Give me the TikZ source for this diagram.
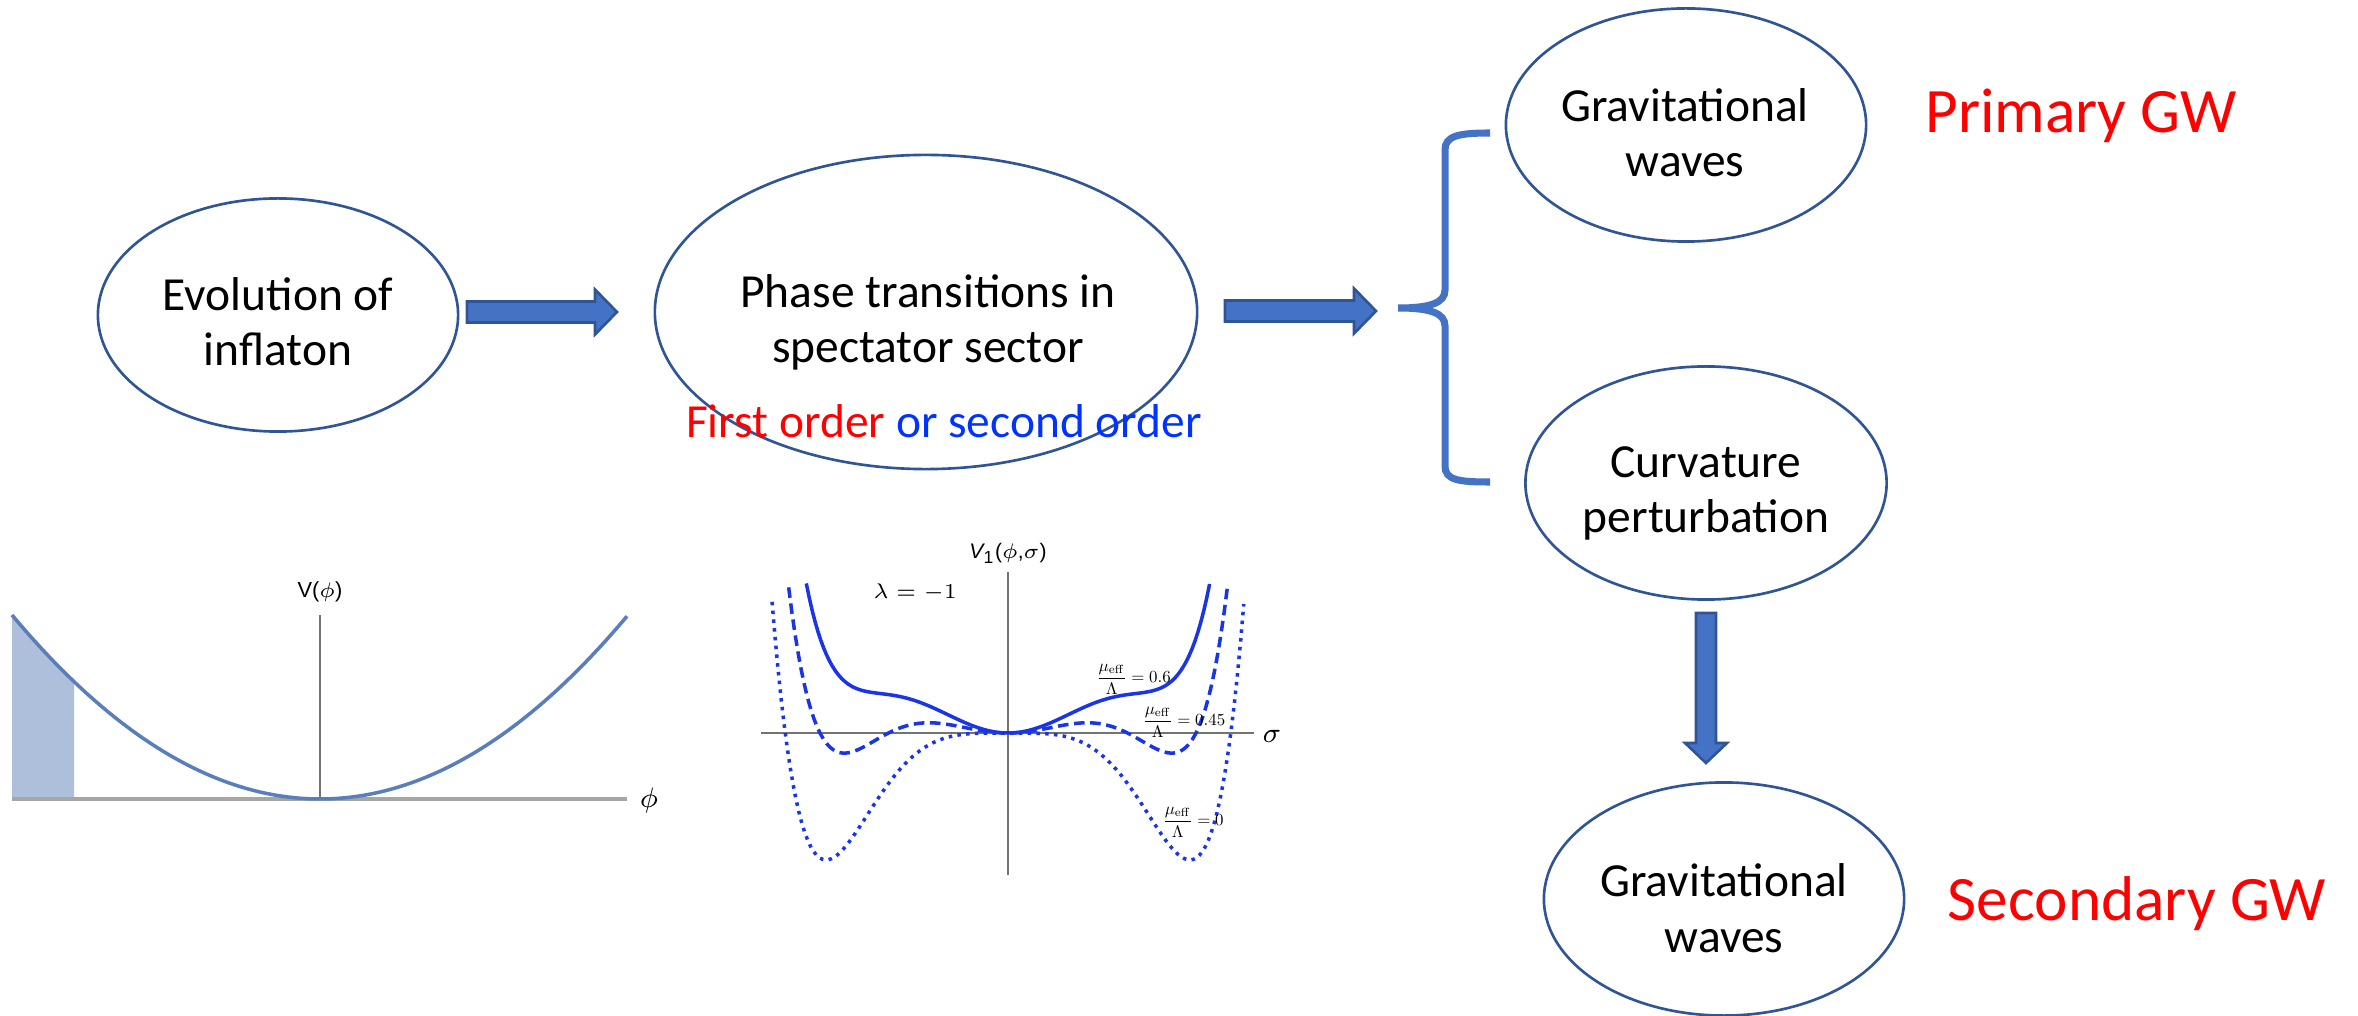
\documentclass[tikz,border=0pt]{standalone}
\usepackage[no-math]{fontspec}
\usepackage{graphicx}
\setmainfont{Carlito}
\newfontfamily\plotsans{Liberation Sans}
\usetikzlibrary{shapes.geometric,calc}
\definecolor{ellline}{HTML}{2F5597}
\definecolor{arrfill}{HTML}{4472C4}
\definecolor{curveblue}{HTML}{1A35E6}
\definecolor{steel}{HTML}{5A7EBB}
\definecolor{shadefill}{HTML}{ADBFDA}
\definecolor{gwred}{HTML}{FF0000}
\definecolor{orderblue}{HTML}{0033FF}
\newcommand\myblockright[2]{%
  \draw[blockarrow] ($(#1)+(0,-10.5)$) -- ($(#2)+(-22,-10.5)$) -- ($(#2)+(-22,-22.5)$) -- (#2)
    -- ($(#2)+(-22,22.5)$) -- ($(#2)+(-22,10.5)$) -- ($(#1)+(0,10.5)$) -- cycle;}
\newcommand\mulabel[1]{\scalebox{0.48}{\fontsize{10}{12}\selectfont$\displaystyle\frac{\mu_{\mathrm{eff}}}{\Lambda}=#1$}}
\begin{document}
\begin{tikzpicture}[x=0.01cm,y=-0.01cm,
  declare function={Vp(\s,\m)=\m*\s*\s-45.6*\s*\s*\s*\s+10.52*\s*\s*\s*\s*\s*\s;
                    Vq(\t)=799-184*((\t-320)/308)*((\t-320)/308);},
  ell/.style={draw=ellline, line width=0.75pt, ellipse, inner sep=0pt},
  bigtxt/.style={font=\fontsize{13.5}{15.9}\selectfont, align=center, anchor=base, inner sep=0pt},
  redtxt/.style={font=\fontsize{18}{21}\selectfont, text=gwred, anchor=base, inner sep=0pt},
  blockarrow/.style={fill=arrfill, draw=ellline, line width=0.75pt, line join=miter},
  bracestyle/.style={draw=arrfill, line width=2pt, line cap=butt},
  thinaxis/.style={draw=black!55, line width=0.35pt},
  plotlbl/.style={inner sep=0pt},
  mulbl/.style={inner sep=0pt, anchor=west},
]
\useasboundingbox (0,0) rectangle (2358,1016);
\fill[white] (0,0) rectangle (2358,1016);

% ellipses (text nodes anchored at the baseline of their last line)
\node[ell, minimum width=3.6cm, minimum height=2.33cm] (evo) at (278,315) {};
\node[bigtxt] (evotxt) at (278,366) {Evolution of\\inflaton};

\node[ell, minimum width=5.42cm, minimum height=3.14cm] (phase) at (926,312) {};
\node[bigtxt] (phasetxt) at (928,363) {Phase transitions in\\spectator sector};
\node[bigtxt] (ordertxt) at (944,438) {\textcolor{gwred}{First order} \textcolor{orderblue}{or second order}};

\node[ell, minimum width=3.6cm, minimum height=2.33cm] (gwone) at (1686,125) {};
\node[bigtxt] (gwonetxt) at (1685,177) {Gravitational\\waves};

\node[ell, minimum width=3.61cm, minimum height=2.33cm] (curv) at (1706,483) {};
\node[bigtxt] (curvtxt) at (1706,533) {Curvature\\perturbation};

\node[ell, minimum width=3.6cm, minimum height=2.33cm] (gwtwo) at (1724,899) {};
\node[bigtxt] (gwtwotxt) at (1724,952) {Gravitational\\waves};

\node[redtxt] (primary) at (2081,133) {Primary GW};
\node[redtxt] (secondary) at (2137,920) {Secondary GW};

% block arrows
\coordinate (aones) at (467,312);
\coordinate (aonee) at (617,312);
\myblockright{aones}{aonee}
\coordinate (atwos) at (1225,311);
\coordinate (atwoe) at (1376,311);
\myblockright{atwos}{atwoe}
\coordinate (adowns) at (1706,613);
\coordinate (adowne) at (1706,763);
\draw[blockarrow] ($(adowns)+(-10,0)$) -- ($(adowne)+(-10,-20)$) -- ($(adowne)+(-21,-20)$) -- (adowne)
  -- ($(adowne)+(21,-20)$) -- ($(adowne)+(10,-20)$) -- ($(adowns)+(10,0)$) -- cycle;

% brace
\coordinate (btop) at (1490,133);
\coordinate (bmid) at (1398,308);
\coordinate (bbot) at (1490,482);
\draw[bracestyle] (btop) .. controls (1458,133) and (1445,136) .. (1445,150) -- (1445,290)
  .. controls (1445,303) and (1430,308) .. (bmid)
  .. controls (1430,308) and (1445,313) .. (1445,326) -- (1445,466)
  .. controls (1445,480) and (1458,482) .. (bbot);

% plot 1
\fill[shadefill] (12,799) -- plot[domain=12:74,samples=12] (\x,{Vq(\x)}) -- (74,799) -- cycle;
\draw[thinaxis] (320,615) -- (320,799);
\draw[draw=black!35, line width=1pt] (12,799) -- (627,799);
\draw[steel, line width=1pt] plot[domain=12:627,samples=90] (\x,{Vq(\x)});
\node[plotlbl, font=\plotsans\fontsize{6.2}{7}\selectfont] (vphi) at (320,592) {V(\(\phi\))};
\node[plotlbl, font=\fontsize{8.5}{10}\selectfont] (philbl) at (649,800) {$\phi$};

% plot 2
\draw[thinaxis] (1008,572) -- (1008,875);
\draw[thinaxis] (761,733) -- (1254,733);
\draw[curveblue, line width=1pt] plot[domain=-1.885:1.885,samples=140] ({1008+107*\x},{733-Vp(\x,71.3)});
\draw[curveblue, line width=1pt, dash pattern=on 3pt off 1.6pt] plot[domain=-2.05:2.05,samples=140] ({1008+107*\x},{733-Vp(\x,40.5)});
\draw[curveblue, line width=1pt, dash pattern=on 1pt off 1.5pt] plot[domain=-2.205:2.205,samples=160] ({1008+107*\x},{733-Vp(\x,0)});
\node[plotlbl, font=\plotsans\fontsize{6}{7}\selectfont] (vone) at (1008,553) {{\itshape V}\textsubscript{1}(\(\phi\),\(\sigma\))};
\node[plotlbl, font=\fontsize{6.2}{7}\selectfont] (lam) at (915,593) {$\lambda=-1$};
\node[mulbl] (muA) at (1096,679) {\mulabel{0.6}};
\node[mulbl] (muB) at (1142,722) {\mulabel{0.45}};
\node[mulbl] (muC) at (1162,822) {\mulabel{0}};
\node[plotlbl, font=\fontsize{8.5}{10}\selectfont] (siglbl) at (1272,736) {$\sigma$};
\end{tikzpicture}
\end{document}
